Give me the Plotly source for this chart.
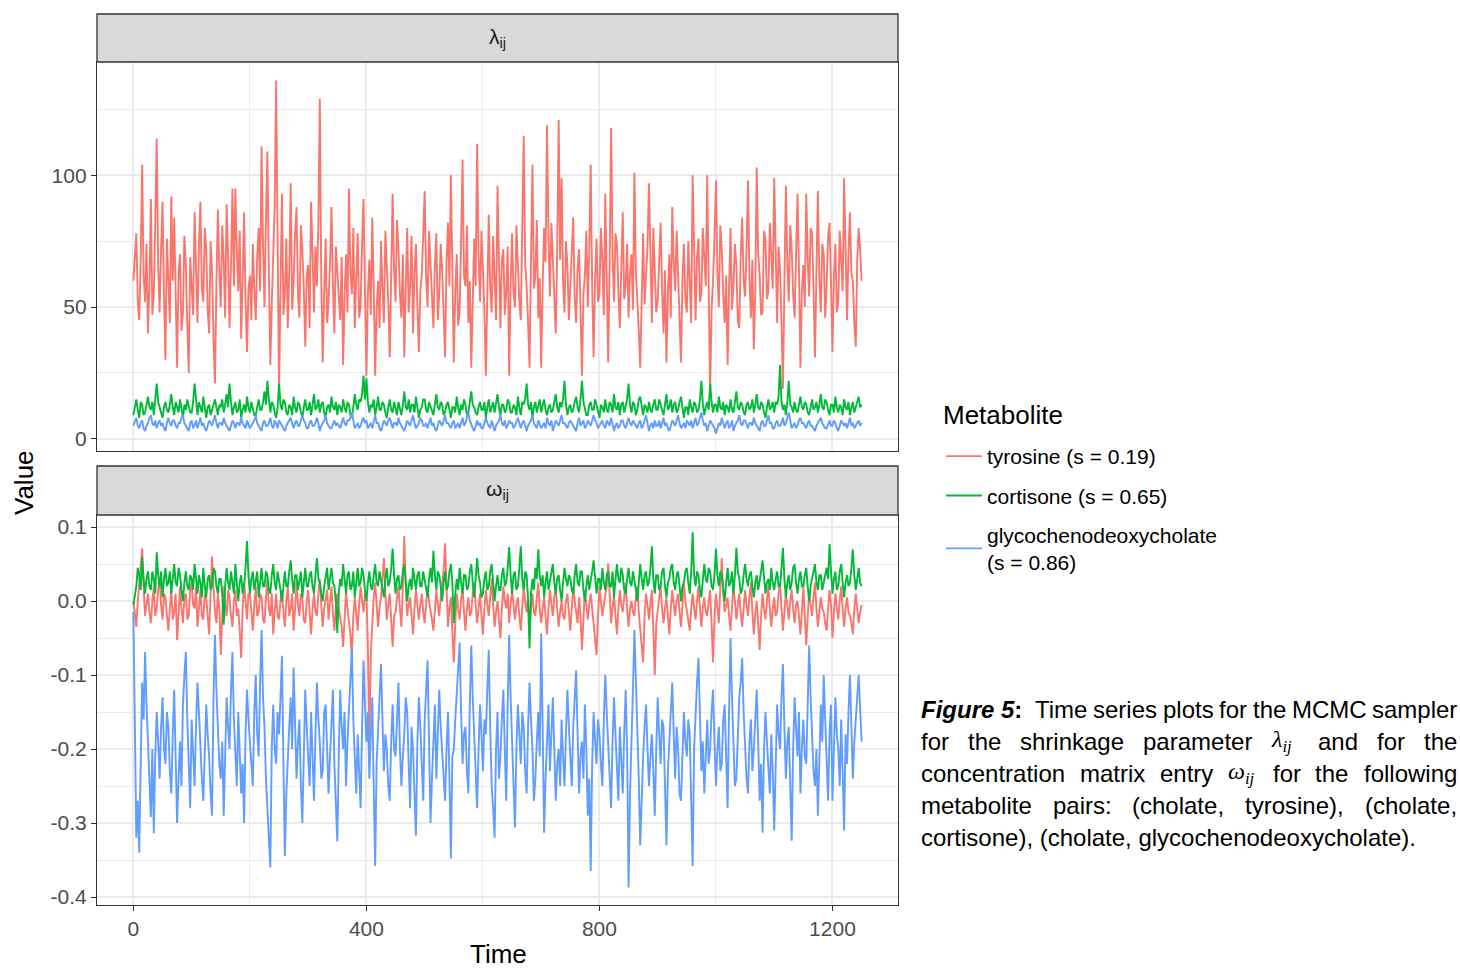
import plotly.graph_objects as go

# ---------------- data (sampled every 2.5 iterations) ----------------
TIME = [i * 2.5 for i in range(501)]

NAMES = ["tyrosine (s = 0.19)", "cortisone (s = 0.65)", "glycochenodeoxycholate<br>(s = 0.86)"]
COLORS = ["#F8766D", "#00BA38", "#619CFF"]

LAMBDA_TYROSINE = [
    60, 71, 78, 52, 45, 68, 104, 62, 52, 74, 40, 58, 91, 47, 55, 82, 114, 66, 48, 72,
    90, 54, 30, 76, 62, 44, 92, 60, 84, 50, 27, 63, 70, 41, 48, 77, 66, 43, 25, 69,
    58, 47, 86, 61, 44, 73, 90, 57, 52, 80, 72, 49, 40, 75, 64, 38, 21, 59, 87, 64,
    50, 81, 68, 46, 89, 70, 42, 66, 95, 58, 95, 71, 56, 79, 38, 60, 86, 52, 33, 57,
    62, 45, 74, 57, 45, 69, 80, 56, 111, 73, 50, 84, 109, 64, 28, 51, 70, 88, 136, 75,
    17, 58, 93, 47, 55, 76, 42, 63, 97, 49, 60, 78, 88, 54, 46, 81, 72, 57, 35, 62,
    66, 42, 90, 71, 48, 73, 58, 82, 129, 60, 29, 55, 76, 44, 52, 67, 88, 58, 40, 73,
    64, 51, 45, 69, 28, 54, 70, 48, 95, 63, 55, 80, 42, 61, 78, 46, 50, 74, 91, 56,
    24, 55, 68, 47, 84, 58, 24, 49, 60, 42, 75, 57, 44, 79, 66, 52, 31, 62, 93, 64,
    52, 83, 72, 55, 46, 70, 31, 57, 80, 48, 58, 77, 40, 63, 74, 50, 33, 56, 62, 78,
    94, 61, 50, 79, 68, 53, 42, 66, 78, 45, 55, 74, 64, 48, 31, 67, 82, 58, 100, 64,
    29, 56, 70, 43, 48, 75, 106, 62, 58, 81, 44, 60, 27, 52, 76, 58, 112, 70, 52, 79,
    66, 49, 24, 62, 85, 57, 48, 77, 60, 45, 96, 63, 42, 68, 72, 47, 56, 73, 24, 58,
    78, 55, 50, 81, 64, 52, 45, 73, 115, 66, 58, 44, 27, 69, 104, 57, 62, 83, 46, 61,
    27, 58, 80, 67, 119, 76, 54, 82, 70, 57, 40, 72, 121, 68, 99, 60, 48, 75, 66, 45,
    58, 77, 84, 53, 44, 65, 72, 49, 24, 55, 62, 79, 50, 72, 104, 58, 31, 60, 76, 52,
    55, 80, 68, 47, 93, 61, 29, 66, 118, 70, 52, 78, 74, 56, 42, 65, 86, 53, 58, 74,
    46, 63, 70, 49, 101, 64, 54, 41, 27, 59, 78, 51, 60, 73, 97, 62, 44, 80, 66, 48,
    52, 71, 82, 57, 40, 64, 29, 55, 70, 46, 88, 67, 56, 79, 64, 50, 29, 61, 74, 53,
    48, 75, 62, 44, 100, 63, 45, 69, 76, 52, 55, 80, 68, 58, 100, 54, 17, 49, 60, 77,
    98, 63, 50, 81, 72, 55, 44, 62, 28, 57, 80, 49, 58, 74, 66, 45, 42, 69, 84, 60,
    54, 72, 98, 61, 46, 68, 34, 56, 103, 70, 62, 47, 48, 79, 76, 53, 56, 82, 70, 57,
    99, 62, 44, 73, 64, 45, 19, 58, 96, 67, 52, 81, 72, 55, 46, 70, 93, 64, 27, 56,
    66, 50, 93, 68, 54, 80, 78, 57, 31, 63, 94, 61, 48, 74, 70, 46, 58, 77, 82, 59,
    33, 62, 74, 48, 52, 79, 64, 56, 99, 68, 45, 71, 86, 63, 60, 44, 35, 68, 80, 72,
    60,
]

LAMBDA_CORTISONE = [
    9, 12, 15, 11, 8, 14, 13, 9, 10, 13, 16, 12, 11, 14, 9, 15, 21, 14, 12, 9,
    8, 12, 14, 11, 10, 13, 17, 12, 9, 14, 12, 10, 15, 11, 8, 13, 11, 15, 13, 10,
    10, 14, 21, 13, 9, 14, 12, 10, 16, 11, 8, 12, 13, 9, 11, 14, 15, 12, 9, 13,
    12, 15, 10, 13, 17, 12, 21, 14, 9, 12, 14, 10, 11, 15, 8, 11, 13, 10, 16, 12,
    10, 14, 12, 9, 9, 13, 15, 11, 11, 14, 18, 13, 22, 15, 10, 14, 13, 10, 8, 12,
    21, 13, 11, 15, 14, 10, 9, 13, 12, 9, 16, 12, 10, 14, 13, 10, 8, 12, 15, 11,
    11, 14, 9, 13, 17, 11, 12, 15, 10, 13, 14, 10, 8, 12, 13, 10, 16, 12, 11, 14,
    9, 13, 12, 10, 15, 12, 10, 14, 13, 9, 8, 12, 17, 13, 11, 15, 14, 17, 24, 15,
    23, 14, 10, 13, 12, 15, 9, 12, 16, 11, 11, 14, 13, 10, 8, 12, 15, 11, 10, 14,
    12, 9, 14, 11, 9, 13, 18, 12, 11, 15, 10, 13, 13, 10, 16, 12, 8, 11, 12, 15,
    15, 11, 10, 14, 12, 10, 9, 13, 17, 12, 11, 14, 13, 9, 10, 13, 14, 11, 8, 12,
    12, 10, 16, 12, 9, 13, 11, 15, 13, 9, 10, 14, 18, 13, 12, 10, 9, 12, 14, 11,
    11, 14, 8, 12, 15, 10, 12, 14, 10, 13, 17, 12, 9, 13, 13, 10, 11, 15, 14, 10,
    10, 13, 12, 9, 16, 12, 9, 14, 13, 15, 21, 13, 11, 14, 8, 12, 14, 10, 12, 15,
    10, 13, 15, 11, 9, 12, 13, 10, 11, 14, 17, 12, 10, 14, 12, 15, 22, 13, 9, 12,
    13, 10, 11, 14, 16, 12, 10, 15, 22, 14, 12, 9, 9, 13, 14, 11, 11, 15, 13, 10,
    8, 13, 12, 10, 15, 11, 10, 14, 13, 10, 17, 12, 11, 14, 9, 13, 14, 10, 12, 15,
    21, 13, 10, 14, 13, 9, 11, 15, 16, 12, 9, 13, 12, 10, 14, 11, 10, 13, 15, 11,
    11, 15, 13, 10, 9, 13, 17, 11, 12, 15, 10, 13, 14, 10, 11, 14, 16, 12, 8, 12,
    12, 9, 15, 12, 10, 14, 13, 10, 11, 15, 22, 13, 9, 12, 14, 11, 21, 14, 10, 13,
    13, 10, 16, 12, 11, 14, 9, 13, 12, 10, 15, 11, 10, 14, 18, 12, 11, 14, 13, 10,
    9, 13, 14, 11, 12, 15, 10, 13, 17, 12, 11, 14, 13, 10, 8, 12, 15, 11, 12, 14,
    10, 14, 13, 16, 28, 14, 11, 13, 9, 14, 22, 13, 12, 10, 14, 11, 10, 13, 16, 12,
    11, 14, 13, 10, 9, 12, 15, 11, 12, 14, 10, 13, 17, 12, 11, 15, 14, 11, 9, 13,
    13, 10, 16, 12, 10, 13, 12, 9, 15, 12, 11, 14, 9, 12, 14, 10, 12, 15, 16, 12,
    13,
]

LAMBDA_GLYCO = [
    5, 7, 8, 5, 4, 6, 7, 4, 3, 5, 6, 8, 9, 6, 5, 7, 4, 6, 7, 5,
    6, 4, 3, 6, 8, 6, 5, 7, 7, 5, 4, 6, 6, 8, 9, 6, 5, 4, 3, 6,
    7, 4, 5, 7, 4, 6, 8, 5, 6, 4, 3, 5, 7, 6, 5, 7, 9, 6, 4, 6,
    6, 5, 8, 6, 5, 4, 3, 5, 7, 6, 4, 6, 6, 5, 8, 6, 5, 4, 7, 5,
    4, 5, 6, 7, 9, 6, 5, 4, 3, 6, 7, 5, 5, 6, 8, 5, 4, 7, 6, 4,
    7, 6, 5, 4, 3, 5, 6, 7, 8, 6, 4, 6, 7, 5, 5, 7, 9, 7, 6, 4,
    4, 6, 7, 5, 5, 6, 8, 6, 3, 5, 6, 7, 9, 6, 5, 4, 4, 6, 7, 5,
    6, 5, 4, 6, 8, 6, 5, 7, 7, 8, 10, 7, 4, 5, 6, 4, 5, 7, 8, 6,
    7, 4, 5, 6, 4, 7, 9, 6, 6, 4, 3, 5, 7, 6, 5, 7, 8, 6, 4, 6,
    6, 5, 8, 6, 5, 4, 3, 5, 7, 6, 5, 7, 9, 6, 4, 5, 6, 8, 7, 5,
    5, 6, 4, 6, 8, 5, 6, 4, 3, 5, 7, 6, 5, 7, 9, 6, 6, 5, 4, 6,
    7, 4, 5, 6, 4, 6, 8, 5, 6, 8, 10, 7, 5, 4, 3, 5, 7, 5, 6, 4,
    4, 6, 8, 6, 5, 4, 7, 5, 3, 5, 6, 7, 9, 6, 5, 7, 4, 5, 7, 6,
    6, 4, 5, 7, 8, 6, 4, 6, 7, 5, 3, 5, 6, 7, 9, 6, 5, 4, 7, 5,
    4, 5, 6, 4, 8, 6, 5, 7, 3, 5, 7, 6, 5, 7, 9, 6, 6, 5, 4, 6,
    7, 6, 5, 4, 3, 6, 8, 5, 6, 7, 4, 5, 7, 6, 5, 7, 9, 7, 6, 4,
    5, 6, 7, 5, 4, 7, 6, 5, 8, 6, 3, 5, 6, 4, 5, 7, 7, 5, 4, 6,
    8, 6, 5, 7, 6, 5, 4, 6, 7, 4, 5, 7, 9, 6, 3, 5, 6, 4, 7, 5,
    5, 7, 4, 6, 8, 5, 6, 4, 3, 5, 7, 6, 5, 7, 9, 6, 4, 5, 6, 4,
    7, 6, 5, 7, 4, 6, 8, 5, 6, 8, 10, 7, 5, 6, 3, 5, 7, 6, 5, 4,
    2, 4, 6, 5, 8, 6, 4, 6, 7, 4, 5, 7, 3, 5, 6, 7, 9, 6, 5, 7,
    7, 5, 4, 6, 6, 5, 8, 6, 5, 4, 3, 6, 7, 5, 5, 7, 9, 6, 6, 4,
    4, 6, 7, 5, 5, 6, 8, 5, 6, 8, 10, 7, 4, 5, 6, 4, 5, 7, 8, 6,
    6, 5, 4, 6, 7, 5, 5, 4, 3, 5, 6, 7, 8, 6, 5, 4, 4, 6, 7, 5,
    5, 7, 6, 4, 3, 5, 7, 6, 5, 6, 4, 6, 8, 5, 6, 4, 5, 6, 7, 5,
    6,
]

OMEGA_TYROSINE = [
    0.0, -0.02, -0.035, 0.0, 0.025, 0.04, 0.071, 0.02, -0.02, -0.005, 0.01, -0.015, -0.03, 0.0, 0.02, -0.02, -0.01, 0.015, 0.03, -0.005,
    -0.025, 0.01, 0.005, -0.02, -0.04, -0.01, 0.015, -0.025, -0.015, 0.01, -0.053, -0.02, 0.02, -0.01, -0.03, 0.005, 0.01, -0.025, -0.02, 0.015,
    0.025, -0.005, -0.01, 0.02, -0.035, -0.01, 0.015, -0.02, -0.025, 0.01, 0.005, -0.02, -0.045, 0.01, 0.06, 0.02, -0.015, -0.03, 0.01, -0.01,
    -0.073, -0.02, 0.02, -0.005, -0.02, 0.015, 0.005, -0.02, -0.035, 0.0, 0.015, -0.02, -0.01, -0.04, -0.077, -0.01, 0.025, 0.0, -0.025, 0.01,
    0.01, -0.015, -0.04, -0.005, 0.02, -0.02, -0.015, 0.01, 0.005, -0.025, -0.03, 0.005, 0.03, -0.01, -0.02, 0.01, -0.045, -0.015, 0.01, -0.02,
    -0.025, 0.0, 0.015, -0.015, -0.035, 0.0, 0.02, -0.02, -0.01, 0.01, -0.04, -0.01, 0.025, -0.005, -0.02, 0.01, 0.005, -0.025, -0.03, 0.0,
    0.015, -0.015, -0.045, -0.01, 0.01, -0.015, -0.02, 0.01, 0.03, -0.005, -0.035, -0.01, 0.0, 0.015, -0.025, -0.005, 0.02, -0.015, -0.04, -0.01,
    0.01, -0.01, -0.02, -0.035, -0.062, -0.015, 0.015, -0.01, -0.03, -0.045, -0.077, -0.02, 0.005, -0.02, -0.04, -0.005, 0.02, 0.0, -0.015, 0.01,
    0.01, -0.06, -0.198, -0.07, -0.02, 0.005, 0.025, -0.01, -0.035, -0.01, 0.005, 0.03, 0.058, 0.01, -0.025, -0.005, 0.01, -0.025, -0.062, -0.02,
    -0.015, 0.005, 0.02, -0.01, -0.035, 0.02, 0.088, 0.02, -0.02, -0.005, 0.005, -0.02, -0.045, -0.01, 0.015, -0.005, -0.025, -0.005, 0.01, -0.015,
    -0.03, -0.005, 0.02, 0.0, -0.01, -0.025, -0.04, -0.01, 0.015, -0.005, -0.02, 0.005, 0.025, 0.04, 0.078, 0.01, -0.035, -0.01, 0.005, -0.04,
    -0.083, -0.03, 0.01, -0.01, -0.025, 0.0, 0.02, -0.015, -0.04, -0.01, 0.005, -0.02, -0.015, 0.01, 0.025, -0.005, -0.03, -0.01, 0.01, -0.02,
    -0.045, -0.01, 0.015, -0.005, -0.02, 0.005, 0.03, -0.005, -0.035, -0.015, 0.0, -0.025, -0.05, -0.01, 0.02, 0.0, -0.01, 0.01, -0.03, -0.005,
    0.015, -0.005, -0.025, -0.005, 0.005, -0.02, -0.04, -0.01, 0.02, 0.0, -0.015, 0.005, -0.035, -0.01, 0.01, -0.015, -0.02, 0.005, 0.025, -0.01,
    -0.03, -0.01, 0.005, -0.02, -0.045, -0.01, 0.015, -0.005, -0.02, 0.005, 0.02, -0.01, -0.035, -0.015, 0.0, -0.02, -0.025, 0.0, 0.01, -0.015,
    -0.04, -0.01, 0.02, 0.0, -0.015, -0.03, 0.005, -0.02, -0.066, -0.02, 0.015, -0.005, -0.025, -0.005, 0.01, -0.01, -0.035, -0.05, -0.073, -0.02,
    0.02, 0.0, -0.02, -0.005, 0.005, 0.02, 0.051, 0.01, -0.03, -0.01, 0.01, -0.02, -0.045, -0.01, 0.015, -0.005, -0.015, 0.005, 0.025, -0.01,
    -0.035, -0.01, 0.0, -0.015, -0.02, 0.005, 0.02, -0.015, -0.04, -0.06, -0.083, -0.02, 0.01, -0.005, -0.025, -0.005, 0.015, -0.04, -0.1, -0.03,
    -0.01, 0.005, 0.02, -0.01, -0.03, -0.01, 0.005, -0.02, -0.045, -0.01, 0.015, -0.005, -0.02, 0.0, 0.01, -0.015, -0.035, -0.005, 0.025, 0.0,
    -0.015, -0.03, -0.04, -0.01, 0.01, -0.01, -0.025, 0.0, 0.02, -0.01, -0.035, -0.01, 0.005, -0.015, -0.02, 0.0, 0.015, -0.03, -0.083, -0.02,
    0.01, -0.01, -0.03, 0.02, 0.058, 0.01, -0.015, -0.005, 0.005, -0.02, -0.04, -0.01, 0.02, 0.0, -0.025, -0.005, 0.01, -0.015, -0.035, -0.01,
    0.015, -0.005, -0.02, 0.005, 0.025, -0.015, -0.045, -0.015, 0.0, -0.03, -0.066, -0.02, 0.01, -0.01, -0.025, 0.0, 0.02, -0.01, -0.035, -0.01,
    0.005, -0.02, -0.015, 0.01, 0.025, -0.01, -0.04, -0.015, 0.01, -0.005, -0.025, 0.0, 0.015, -0.01, -0.03, -0.005, 0.0, -0.02, -0.045, -0.015,
    0.02, -0.02, -0.06, -0.02, 0.01, -0.005, -0.02, 0.005, 0.025, -0.01, -0.035, -0.015, 0.005, -0.01, -0.015, -0.03, -0.04, -0.01, 0.015, -0.005,
    -0.05, -0.015, 0.01, -0.01, -0.025, 0.0, 0.02, -0.01, -0.035, -0.01, 0.005, -0.015, -0.02, -0.03, -0.045, -0.01, 0.01, -0.01, -0.03, -0.015,
    -0.005,
]

OMEGA_CORTISONE = [
    -0.005, 0.01, 0.02, 0.045, 0.035, 0.015, 0.059, 0.03, 0.01, 0.03, 0.04, 0.02, 0.015, 0.04, 0.03, 0.01, 0.066, 0.035, 0.02, 0.04,
    0.005, 0.03, 0.045, 0.02, 0.025, 0.04, 0.01, 0.03, 0.05, 0.025, 0.02, 0.045, 0.035, 0.015, 0.0, 0.025, 0.04, 0.02, 0.015, 0.035,
    0.03, 0.015, 0.05, 0.03, 0.01, 0.035, 0.025, 0.005, 0.045, 0.02, 0.005, 0.03, 0.035, 0.015, 0.02, 0.045, 0.04, 0.02, 0.01, 0.03,
    0.03, 0.01, -0.032, 0.02, 0.045, 0.025, 0.015, 0.04, 0.025, 0.01, 0.05, 0.02, 0.0, 0.025, 0.035, 0.01, 0.02, 0.045, 0.081, 0.035,
    0.01, 0.03, 0.04, 0.015, 0.025, 0.04, 0.005, 0.03, 0.045, 0.02, 0.02, 0.04, 0.035, 0.015, 0.01, 0.035, 0.05, 0.025, 0.015, 0.04,
    0.03, 0.015, 0.0, 0.025, 0.04, 0.02, 0.02, 0.04, 0.055, 0.03, 0.01, 0.035, 0.035, 0.015, 0.025, 0.04, 0.005, 0.025, 0.045, 0.02,
    0.02, 0.035, 0.04, 0.02, 0.01, 0.035, 0.058, 0.03, 0.025, 0.01, 0.0, 0.02, 0.035, 0.045, 0.015, 0.03, 0.045, 0.025, 0.02, 0.0,
    -0.043, 0.01, 0.03, 0.02, 0.05, 0.03, 0.01, 0.035, 0.04, 0.015, 0.02, 0.04, 0.005, 0.025, 0.045, 0.02, 0.025, 0.045, 0.035, 0.015,
    0.0, 0.025, 0.04, 0.02, 0.015, 0.035, 0.05, 0.025, 0.02, 0.04, 0.03, 0.015, 0.005, 0.03, 0.045, 0.02, 0.025, 0.045, 0.071, 0.035,
    0.01, 0.03, 0.035, 0.015, 0.02, 0.04, 0.05, 0.025, 0.0, 0.02, 0.03, 0.015, 0.045, 0.03, 0.015, 0.035, 0.04, 0.02, 0.02, 0.04,
    0.03, 0.015, 0.005, 0.03, 0.045, 0.025, 0.068, 0.035, 0.015, 0.04, 0.035, 0.02, 0.0, 0.025, 0.04, 0.015, 0.02, 0.04, 0.05, 0.025,
    -0.03, 0.01, 0.03, 0.015, 0.045, 0.025, 0.01, 0.035, 0.035, 0.015, 0.02, 0.04, 0.05, 0.025, 0.005, 0.03, 0.058, 0.035, 0.025, 0.005,
    0.01, 0.03, 0.04, 0.015, 0.02, 0.04, 0.05, 0.025, 0.0, 0.02, 0.035, 0.015, 0.015, 0.035, 0.045, 0.02, 0.025, 0.045, 0.073, 0.035,
    0.01, 0.035, 0.04, 0.015, 0.02, 0.045, 0.074, 0.03, 0.015, 0.04, 0.035, 0.0, -0.064, 0.01, 0.03, 0.015, 0.045, 0.03, 0.07, 0.035,
    0.02, 0.035, 0.005, 0.025, 0.04, 0.015, 0.025, 0.04, 0.05, 0.025, 0.01, 0.03, 0.035, 0.015, 0.0, 0.025, 0.045, 0.03, 0.02, 0.035,
    0.03, 0.015, 0.01, 0.035, 0.05, 0.025, 0.02, 0.04, 0.04, 0.015, 0.0, 0.02, 0.035, 0.015, 0.025, 0.04, 0.055, 0.03, 0.01, 0.03,
    0.03, 0.015, 0.045, 0.025, 0.015, 0.035, 0.04, 0.02, 0.02, 0.04, 0.005, 0.03, 0.05, 0.03, 0.025, 0.045, 0.035, 0.015, 0.01, 0.03,
    0.045, 0.025, 0.02, 0.04, 0.03, 0.015, 0.0, 0.025, 0.05, 0.03, 0.015, 0.035, 0.04, 0.02, 0.025, 0.045, 0.074, 0.03, 0.01, 0.035,
    0.035, 0.015, 0.02, 0.04, 0.045, 0.02, 0.005, 0.025, 0.03, 0.045, 0.05, 0.025, 0.015, 0.035, 0.04, 0.02, 0.0, 0.02, 0.025, 0.04,
    0.045, 0.025, 0.01, 0.04, 0.093, 0.035, 0.02, 0.04, 0.035, 0.015, 0.005, 0.03, 0.05, 0.03, 0.025, 0.045, 0.04, 0.02, 0.015, 0.035,
    0.071, 0.035, 0.02, 0.04, 0.035, 0.015, 0.0, 0.025, 0.045, 0.02, 0.025, 0.04, 0.01, 0.035, 0.072, 0.04, 0.03, 0.01, 0.015, 0.035,
    0.05, 0.03, 0.02, 0.035, 0.04, 0.02, 0.005, 0.025, 0.035, 0.015, 0.025, 0.04, 0.055, 0.03, 0.01, 0.025, 0.03, 0.015, 0.045, 0.025,
    0.015, 0.03, 0.04, 0.02, 0.02, 0.045, 0.072, 0.03, 0.005, 0.025, 0.035, 0.015, 0.025, 0.045, 0.05, 0.025, 0.01, 0.03, 0.04, 0.02,
    0.02, 0.035, 0.045, 0.02, 0.0, 0.02, 0.03, 0.045, 0.05, 0.025, 0.015, 0.035, 0.035, 0.015, 0.025, 0.04, 0.045, 0.03, 0.077, 0.04,
    0.01, 0.03, 0.04, 0.015, 0.02, 0.04, 0.05, 0.025, 0.005, 0.025, 0.035, 0.02, 0.025, 0.045, 0.07, 0.035, 0.015, 0.03, 0.045, 0.025,
    0.02,
]

OMEGA_GLYCO = [
    -0.015, -0.18, -0.32, -0.27, -0.34, -0.22, -0.11, -0.16, -0.069, -0.14, -0.2, -0.25, -0.292, -0.2, -0.314, -0.21, -0.15, -0.19, -0.24, -0.17,
    -0.13, -0.2, -0.22, -0.15, -0.17, -0.23, -0.26, -0.18, -0.12, -0.21, -0.3, -0.24, -0.19, -0.25, -0.14, -0.1, -0.069, -0.16, -0.23, -0.28,
    -0.16, -0.21, -0.25, -0.17, -0.11, -0.15, -0.2, -0.24, -0.27, -0.19, -0.14, -0.18, -0.21, -0.26, -0.29, -0.13, -0.046, -0.12, -0.18, -0.22,
    -0.24, -0.19, -0.29, -0.21, -0.13, -0.17, -0.2, -0.12, -0.069, -0.16, -0.22, -0.25, -0.15, -0.2, -0.26, -0.22, -0.3, -0.18, -0.12, -0.16,
    -0.19, -0.23, -0.25, -0.15, -0.1, -0.18, -0.21, -0.11, -0.039, -0.13, -0.17, -0.24, -0.28, -0.3, -0.36, -0.2, -0.14, -0.2, -0.22, -0.15,
    -0.18, -0.13, -0.074, -0.22, -0.345, -0.26, -0.2, -0.17, -0.13, -0.2, -0.09, -0.15, -0.24, -0.19, -0.16, -0.25, -0.3, -0.21, -0.12, -0.17,
    -0.21, -0.25, -0.15, -0.2, -0.27, -0.18, -0.11, -0.16, -0.19, -0.24, -0.23, -0.15, -0.14, -0.2, -0.26, -0.21, -0.17, -0.12, -0.22, -0.27,
    -0.325, -0.21, -0.12, -0.17, -0.2, -0.15, -0.25, -0.19, -0.15, -0.11, -0.064, -0.16, -0.22, -0.26, -0.18, -0.23, -0.28, -0.17, -0.08, -0.14,
    -0.19, -0.15, -0.24, -0.18, -0.13, -0.25, -0.358, -0.22, -0.17, -0.12, -0.085, -0.16, -0.23, -0.18, -0.2, -0.25, -0.27, -0.19, -0.14, -0.2,
    -0.21, -0.16, -0.11, -0.2, -0.25, -0.21, -0.18, -0.13, -0.15, -0.22, -0.28, -0.17, -0.2, -0.26, -0.317, -0.19, -0.13, -0.17, -0.22, -0.27,
    -0.16, -0.12, -0.08, -0.19, -0.3, -0.24, -0.19, -0.14, -0.24, -0.18, -0.12, -0.17, -0.21, -0.25, -0.27, -0.2, -0.15, -0.24, -0.348, -0.21,
    -0.2, -0.16, -0.13, -0.09, -0.056, -0.15, -0.22, -0.18, -0.17, -0.23, -0.26, -0.14, -0.06, -0.13, -0.19, -0.24, -0.28, -0.2, -0.14, -0.18,
    -0.23, -0.16, -0.18, -0.12, -0.066, -0.17, -0.25, -0.28, -0.32, -0.2, -0.15, -0.24, -0.21, -0.16, -0.12, -0.2, -0.27, -0.14, -0.046, -0.13,
    -0.19, -0.24, -0.306, -0.2, -0.14, -0.18, -0.22, -0.15, -0.17, -0.23, -0.26, -0.17, -0.11, -0.16, -0.2, -0.27, -0.24, -0.19, -0.15, -0.21,
    -0.044, -0.17, -0.313, -0.24, -0.18, -0.14, -0.23, -0.19, -0.13, -0.2, -0.27, -0.22, -0.2, -0.25, -0.16, -0.21, -0.25, -0.18, -0.12, -0.17,
    -0.21, -0.25, -0.17, -0.13, -0.094, -0.18, -0.26, -0.21, -0.19, -0.24, -0.14, -0.2, -0.29, -0.24, -0.365, -0.22, -0.15, -0.19, -0.22, -0.16,
    -0.18, -0.22, -0.25, -0.16, -0.1, -0.15, -0.2, -0.24, -0.28, -0.19, -0.13, -0.18, -0.23, -0.27, -0.17, -0.21, -0.26, -0.18, -0.12, -0.2,
    -0.387, -0.26, -0.2, -0.12, -0.039, -0.1, -0.16, -0.24, -0.33, -0.25, -0.21, -0.17, -0.14, -0.2, -0.25, -0.21, -0.18, -0.23, -0.29, -0.2,
    -0.13, -0.18, -0.22, -0.16, -0.17, -0.25, -0.33, -0.23, -0.19, -0.14, -0.11, -0.18, -0.24, -0.17, -0.2, -0.26, -0.27, -0.21, -0.15, -0.19,
    -0.21, -0.16, -0.18, -0.27, -0.358, -0.2, -0.14, -0.11, -0.077, -0.16, -0.23, -0.19, -0.26, -0.21, -0.16, -0.22, -0.2, -0.15, -0.12, -0.19,
    -0.25, -0.2, -0.17, -0.23, -0.22, -0.16, -0.14, -0.21, -0.28, -0.15, -0.05, -0.13, -0.19, -0.25, -0.24, -0.18, -0.13, -0.11, -0.077, -0.15,
    -0.21, -0.24, -0.26, -0.19, -0.16, -0.23, -0.2, -0.15, -0.12, -0.19, -0.27, -0.22, -0.313, -0.2, -0.15, -0.19, -0.22, -0.26, -0.18, -0.23,
    -0.31, -0.2, -0.14, -0.18, -0.2, -0.13, -0.085, -0.17, -0.24, -0.19, -0.17, -0.25, -0.324, -0.2, -0.13, -0.17, -0.21, -0.15, -0.26, -0.2,
    -0.16, -0.21, -0.22, -0.14, -0.06, -0.13, -0.19, -0.23, -0.25, -0.2, -0.29, -0.22, -0.14, -0.19, -0.1, -0.16, -0.23, -0.27, -0.18, -0.14,
    -0.27, -0.21, -0.13, -0.18, -0.2, -0.25, -0.16, -0.23, -0.31, -0.18, -0.22, -0.15, -0.1, -0.17, -0.24, -0.19, -0.15, -0.13, -0.1, -0.16,
    -0.19,
]

X_TICKS = [0, 400, 800, 1200]
LAMBDA_TICKS = [0, 50, 100]
OMEGA_TICKS = [-0.4, -0.3, -0.2, -0.1, 0.0, 0.1]
OMEGA_TICKTEXT = ["-0.4", "-0.3", "-0.2", "-0.1", "0.0", "0.1"]

STRIP_LABELS = ["λ<sub>ij</sub>", "ω<sub>ij</sub>"]
X_TITLE = "Time"
Y_TITLE = "Value"
LEGEND_TITLE = "Metabolite"

# ---------------- layout geometry (pixels) ----------------
W, H = 1460, 968
L, R, T, B = 97, 898, 14, 905     # plot area


def py(y):
    return (B - y) / (B - T)


def px(x):
    return (x - L) / (R - L)


TOP_DOM = [py(451), py(62)]
TOP_STRIP = [py(62), py(14)]
BOT_DOM = [py(905), py(515)]
BOT_STRIP = [py(515), py(466)]

FONT = "Liberation Sans, Arial, Helvetica, sans-serif"
GRID = "#EBEBEB"
FRAME = "#333333"

fig = go.Figure()

series_top = [LAMBDA_TYROSINE, LAMBDA_CORTISONE, LAMBDA_GLYCO]
series_bot = [OMEGA_TYROSINE, OMEGA_CORTISONE, OMEGA_GLYCO]

for k in range(3):
    fig.add_trace(go.Scatter(
        x=TIME, y=series_top[k], mode="lines", name=NAMES[k],
        line=dict(color=COLORS[k], width=1.9), xaxis="x2", yaxis="y2",
        legendgroup=str(k), showlegend=False, hoverinfo="skip"))
for k in range(3):
    fig.add_trace(go.Scatter(
        x=TIME, y=series_bot[k], mode="lines", name=NAMES[k],
        line=dict(color=COLORS[k], width=1.9), xaxis="x", yaxis="y",
        legendgroup=str(k), showlegend=True, hoverinfo="skip"))

axis_common = dict(
    showline=True, mirror=True, linecolor=FRAME, linewidth=1.3,
    showgrid=True, gridcolor=GRID, gridwidth=1.5, zeroline=False,
    tickfont=dict(family=FONT, size=21, color="#4D4D4D"),
    tickcolor=FRAME, tickwidth=1.2, ticklen=5,
)

fig.update_layout(
    width=W, height=H,
    margin=dict(l=L, r=W - R, t=T, b=H - B),
    paper_bgcolor="white", plot_bgcolor="white",
    font=dict(family=FONT, color="black"),
    xaxis=dict(domain=[0, 1], anchor="y", range=[-62.5, 1312.5],
               tickmode="array", tickvals=X_TICKS, ticks="outside",
               minor=dict(tickmode="linear", tick0=0, dtick=200, showgrid=True,
                          gridcolor=GRID, gridwidth=1.2),
               **axis_common),
    xaxis2=dict(domain=[0, 1], anchor="y2", range=[-62.5, 1312.5], matches="x",
                tickmode="array", tickvals=X_TICKS, ticks="", showticklabels=False,
                minor=dict(tickmode="linear", tick0=0, dtick=200, showgrid=True,
                           gridcolor=GRID, gridwidth=1.2),
                **axis_common),
    yaxis=dict(domain=BOT_DOM, anchor="x", range=[-0.4108, 0.1163],
               tickmode="array", tickvals=OMEGA_TICKS, ticktext=OMEGA_TICKTEXT,
               ticks="outside",
               minor=dict(tickmode="linear", tick0=0.05, dtick=0.1, showgrid=True,
                          gridcolor=GRID, gridwidth=1.2),
               **axis_common),
    yaxis2=dict(domain=TOP_DOM, anchor="x2", range=[-4.6, 143.0],
                tickmode="array", tickvals=LAMBDA_TICKS, ticks="outside",
                minor=dict(tickmode="linear", tick0=25, dtick=50, showgrid=True,
                           gridcolor=GRID, gridwidth=1.2),
                **axis_common),
    legend=dict(
        x=px(941), y=py(436), xanchor="left", yanchor="top",
        font=dict(family=FONT, size=21, color="black"),
        tracegroupgap=9, itemwidth=36, bgcolor="rgba(0,0,0,0)",
    ),
)

# legend title
fig.add_annotation(xref="paper", yref="paper", x=px(941), y=py(415), text=LEGEND_TITLE,
                   showarrow=False, xanchor="left", yanchor="middle",
                   font=dict(family=FONT, size=26, color="black"))

# strips
for dom, label in ((TOP_STRIP, STRIP_LABELS[0]), (BOT_STRIP, STRIP_LABELS[1])):
    fig.add_shape(type="rect", xref="paper", yref="paper", x0=0, x1=1,
                  y0=dom[0], y1=dom[1], fillcolor="#D9D9D9",
                  line=dict(color=FRAME, width=1.3), layer="above")
    fig.add_annotation(xref="paper", yref="paper", x=0.5, y=(dom[0] + dom[1]) / 2,
                       text=label, showarrow=False, xanchor="center", yanchor="middle",
                       font=dict(family=FONT, size=21, color="#1A1A1A"))

# axis titles
fig.add_annotation(xref="paper", yref="paper", x=px(498), y=py(954), text=X_TITLE,
                   showarrow=False, xanchor="center", yanchor="middle",
                   font=dict(family=FONT, size=26, color="black"))
fig.add_annotation(xref="paper", yref="paper", x=px(24), y=py(483), text=Y_TITLE,
                   textangle=-90, showarrow=False, xanchor="center", yanchor="middle",
                   font=dict(family=FONT, size=26, color="black"))

# ---------------- caption (justified text) ----------------
ARIAL = {
    " ": 278, "(": 333, ")": 333, ",": 278, ".": 278, ":": 278,
    "a": 556, "b": 556, "c": 500, "d": 556, "e": 556, "f": 278, "g": 556,
    "h": 556, "i": 222, "j": 222, "k": 500, "l": 222, "m": 833, "n": 556,
    "o": 556, "p": 556, "q": 556, "r": 333, "s": 500, "t": 278, "u": 556,
    "v": 500, "w": 722, "x": 500, "y": 500, "z": 500,
    "C": 722, "M": 833, "T": 611, "F": 611,
}
CAP_SIZE = 24
CAP_LEFT, CAP_RIGHT = 919, 1455
MATH_FONT = "Liberation Serif, DejaVu Serif, serif"


def w(word):
    return (word, sum(ARIAL.get(c, 556) for c in word), FONT)


LAM = ("<i>λ</i><sub><i>ij</i></sub>", 1160, MATH_FONT)
OMG = ("<i>ω</i><sub><i>ij</i></sub>", 1230, MATH_FONT)
FIG5 = ("<b><i>Figure 5</i>:</b>", 4223 + 278, FONT)

CAPTION_LINES = [
    ([FIG5] + [w(s) for s in ["Time", "series", "plots", "for", "the", "MCMC", "sampler"]], 709, True),
    ([w("for"), w("the"), w("shrinkage"), w("parameter"), LAM, w("and"), w("for"), w("the")], 741, True),
    ([w("concentration"), w("matrix"), w("entry"), OMG, w("for"), w("the"), w("following")], 773, True),
    ([w(s) for s in ["metabolite", "pairs:", "(cholate,", "tyrosine),", "(cholate,"]], 805, True),
    ([w("cortisone), (cholate, glycochenodeoxycholate).")], 837, False),
]

for words, ycen, justify in CAPTION_LINES:
    widths = [ww * CAP_SIZE / 1000 for _, ww, _ in words]
    if justify and len(words) > 1:
        gap = (CAP_RIGHT - CAP_LEFT - sum(widths)) / (len(words) - 1)
    else:
        gap = 0.278 * CAP_SIZE
    xpos = CAP_LEFT
    for (txt, _, fam), wd in zip(words, widths):
        fig.add_annotation(xref="paper", yref="paper", x=px(xpos), y=py(ycen),
                           text=txt, showarrow=False, xanchor="left", yanchor="middle",
                           font=dict(family=fam, size=CAP_SIZE, color="black"))
        xpos += wd + gap

# the page itself should add no margin around the 1460x968 figure
fig.write_html(
    "out.html",
    config={"displayModeBar": False},
    post_script="document.body.style.margin='0';document.body.style.overflow='hidden';",
)
